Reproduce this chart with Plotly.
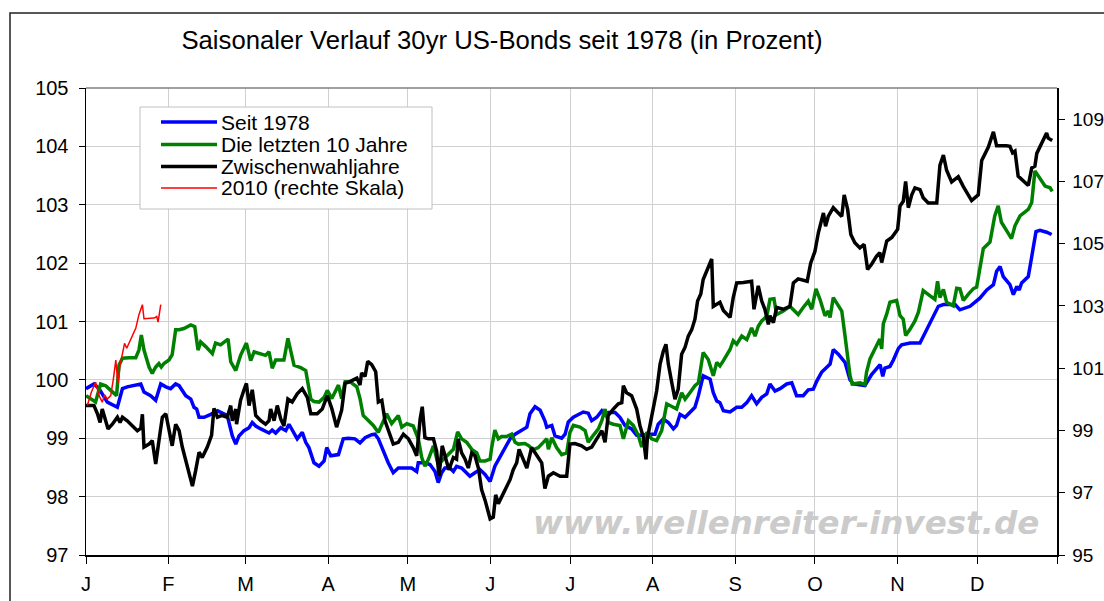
import plotly.graph_objects as go

# ---------------- data ----------------
month_labels = ["J", "F", "M", "A", "M", "J", "J", "A", "S", "O", "N", "D"]
month_start_day = [0, 31, 60, 91, 121, 152, 182, 213, 244, 274, 305, 335]
year_end_day = 365

left_ticks = [97, 98, 99, 100, 101, 102, 103, 104, 105]
right_ticks = [95, 97, 99, 101, 103, 105, 107, 109]

series_names = ["Seit 1978", "Die letzten 10 Jahre", "Zwischenwahljahre", "2010 (rechte Skala)"]

blue_day = [0, 3.0, 4.9, 8.0, 11.8, 13.7, 15.5, 18.0, 20.6, 21.8, 24.3, 26.2, 28.1, 30.0, 31.8, 33.7, 35.0,
            37.5, 39.4, 40.6, 41.6, 42.5, 44.4, 46.9, 49.4, 53.1, 55.0, 56.3, 57.5, 59.4, 61.3, 62.5, 63.8,
            65.7, 66.9, 68.8, 70.0, 71.3, 73.2, 75.1, 76.3, 78.2, 79.4, 81.3, 82.6, 83.8, 85.7, 87.6, 89.5,
            90.5, 92.0, 94.9, 96.7, 98.6, 101.1, 103.0, 104.9, 107.4, 108.6, 109.9, 111.8, 113.6, 115.5,
            117.4, 122.4, 124.3, 124.9, 127.4, 129.3, 131.2, 132.4, 133.7, 134.9, 136.8, 138.1, 139.3,
            141.2, 142.5, 144.3, 146.2, 148.1, 150.0, 151.9, 153.7, 155.6, 157.5, 159.4, 161.3, 163.8,
            165.7, 166.9, 168.8, 170.7, 172.5, 173.2, 175.1, 176.3, 178.8, 180.1, 181.3, 183.2, 186.9,
            188.8, 190.1, 192.0, 193.9, 195.1, 196.3, 198.9, 200.7, 202.6, 205.1, 207.0, 208.9, 211.4,
            213.9, 215.1, 217.0, 218.9, 220.8, 222.0, 223.3, 225.2, 227.0, 228.9, 230.2, 232.0, 234.6,
            235.8, 237.1, 238.3, 239.6, 242.1, 244.6, 246.5, 248.4, 250.2, 252.1, 254.0, 255.9, 257.1,
            259.0, 260.9, 263.4, 265.3, 267.1, 269.6, 271.5, 273.4, 274.7, 276.5, 279.7, 280.9, 282.8,
            285.3, 287.2, 288.5, 292.8, 295.3, 298.5, 299.5, 300.3, 302.2, 303.5, 305.4, 306.6, 309.8,
            313.5, 314.7, 317.3, 320.4, 322.3, 326.7, 328.5, 332.3, 336.0, 338.6, 341.1, 342.3, 343.6,
            344.8, 347.3, 348.6, 349.9, 350.8, 351.7, 354.2, 355.5, 357.1, 358.6, 361.1, 363.0]
blue_val = [99.85, 99.93, 99.85, 99.62, 99.53, 99.85, 99.88, 99.90, 99.93, 99.79, 99.73, 99.65, 99.93, 99.88,
            99.85, 99.93, 99.90, 99.73, 99.67, 99.53, 99.50, 99.36, 99.36, 99.41, 99.47, 99.39, 99.04, 98.90,
            99.04, 99.13, 99.18, 99.27, 99.21, 99.16, 99.13, 99.09, 99.14, 99.09, 99.18, 99.13, 99.24, 99.10,
            98.99, 99.10, 98.93, 98.84, 98.58, 98.52, 98.61, 98.84, 98.70, 98.72, 98.99, 99.00, 98.99, 98.92,
            99.01, 99.06, 99.07, 98.99, 98.78, 98.58, 98.41, 98.49, 98.49, 98.43, 98.58, 98.58, 98.55, 98.43,
            98.24, 98.41, 98.49, 98.49, 98.43, 98.52, 98.49, 98.43, 98.35, 98.41, 98.46, 98.38, 98.26, 98.52,
            98.67, 98.84, 98.99, 99.07, 99.13, 99.19, 99.42, 99.54, 99.48, 99.30, 99.19, 99.22, 99.04, 99.00,
            99.07, 99.28, 99.36, 99.45, 99.43, 99.30, 99.36, 99.47, 99.41, 99.44, 99.44, 99.36, 99.22, 99.16,
            99.05, 99.05, 99.07, 99.07, 99.24, 99.33, 99.27, 99.16, 99.22, 99.41, 99.36, 99.44, 99.53, 99.73,
            100.07, 100.01, 99.78, 99.64, 99.61, 99.47, 99.45, 99.53, 99.53, 99.61, 99.73, 99.59, 99.70, 99.76,
            99.93, 99.81, 99.85, 99.93, 99.95, 99.73, 99.73, 99.83, 99.84, 99.98, 100.13, 100.27, 100.52,
            100.44, 100.30, 100.00, 99.93, 99.90, 100.09, 100.26, 100.06, 100.20, 100.23, 100.34, 100.54,
            100.60, 100.63, 100.63, 100.74, 100.97, 101.26, 101.29, 101.29, 101.20, 101.26, 101.40, 101.54,
            101.63, 101.86, 101.94, 101.77, 101.63, 101.46, 101.60, 101.54, 101.66, 101.77, 102.11, 102.54,
            102.56, 102.53, 102.49]

green_day = [0, 1.8, 3.6, 5.5, 7.4, 9.3, 10.5, 11.5, 12.4, 13.7, 16.2, 18.7, 19.9, 20.8, 21.8, 23.7, 24.9,
             26.2, 27.4, 28.3, 29.3, 31.2, 32.4, 33.7, 35.0, 36.8, 39.4, 40.9, 42.1, 43.1, 45.0, 47.5, 48.7,
             50.6, 53.4, 54.4, 56.3, 58.1, 60.3, 61.9, 63.2, 65.7, 67.5, 68.8, 70.0, 71.3, 74.4, 75.9, 78.2,
             80.7, 82.6, 84.5, 85.7, 87.6, 89.5, 90.7, 92.4, 94.9, 96.1, 97.4, 99.2, 101.8, 103.0, 104.2,
             106.1, 108.0, 109.9, 111.8, 113.0, 114.9, 116.2, 117.4, 118.7, 120.6, 123.0, 124.9, 126.2,
             127.4, 128.7, 130.6, 132.4, 134.3, 136.2, 138.1, 139.7, 141.2, 143.1, 145.0, 146.9, 148.1,
             150.0, 151.9, 152.5, 153.7, 155.0, 156.2, 158.1, 160.0, 161.3, 162.5, 165.0, 166.5, 168.1,
             170.0, 171.9, 173.2, 173.8, 175.1, 176.9, 178.8, 180.7, 181.9, 183.2, 185.7, 187.6, 188.8,
             190.7, 192.6, 193.9, 195.1, 196.3, 198.2, 200.7, 202.0, 203.9, 205.7, 207.6, 208.9, 210.8,
             212.6, 214.5, 216.4, 218.3, 220.8, 222.0, 223.9, 225.2, 227.0, 228.9, 230.2, 232.0, 233.9,
             235.8, 237.1, 238.3, 239.6, 242.1, 243.3, 244.6, 246.5, 248.4, 250.2, 251.5, 252.7, 254.0,
             255.9, 257.1, 258.6, 259.6, 262.1, 264.6, 265.9, 267.7, 269.6, 271.5, 272.8, 274.4, 275.9,
             277.8, 279.0, 279.7, 280.9, 282.2, 284.1, 285.3, 287.2, 288.0, 291.0, 292.8, 293.4, 294.7,
             295.9, 298.4, 299.1, 299.7, 301.0, 302.2, 304.7, 306.0, 307.2, 308.1, 309.8, 311.6, 312.9,
             314.7, 317.3, 319.1, 320.1, 321.0, 322.3, 323.5, 326.0, 327.3, 328.5, 329.8, 331.7, 333.5,
             334.8, 335.8, 337.3, 339.8, 341.6, 342.9, 344.1, 346.0, 347.9, 349.2, 351.1, 354.2, 355.5,
             356.7, 358.6, 360.5, 362.4, 363.2]
green_val = [99.73, 99.67, 99.62, 99.93, 99.90, 99.82, 99.76, 99.73, 100.25, 100.37, 100.38, 100.38, 100.51,
             100.77, 100.51, 100.22, 100.11, 100.22, 100.28, 100.22, 100.28, 100.34, 100.43, 100.86, 100.86,
             100.88, 100.94, 100.91, 100.51, 100.65, 100.57, 100.45, 100.63, 100.60, 100.70, 100.31, 100.16,
             100.42, 100.63, 100.33, 100.48, 100.45, 100.42, 100.48, 100.20, 100.34, 100.34, 100.71, 100.25,
             100.21, 100.16, 99.67, 99.63, 99.62, 99.70, 99.82, 99.68, 99.91, 99.68, 99.97, 99.97, 99.88,
             99.68, 99.39, 99.30, 99.22, 99.10, 99.30, 99.42, 99.25, 99.33, 99.39, 99.19, 99.25, 99.21,
             98.99, 98.67, 98.52, 98.64, 98.87, 98.55, 98.64, 98.72, 98.81, 99.11, 98.99, 98.93, 98.81,
             98.75, 98.61, 98.61, 98.64, 98.84, 99.14, 98.99, 99.03, 99.03, 99.07, 98.93, 98.90, 98.91,
             98.87, 98.80, 98.84, 98.93, 98.99, 98.81, 99.01, 98.84, 98.72, 98.75, 99.10, 99.22, 99.19,
             99.13, 98.93, 99.05, 99.16, 99.30, 99.50, 99.27, 99.24, 99.22, 98.99, 99.30, 99.22, 99.05,
             98.85, 99.10, 98.99, 98.96, 99.13, 99.59, 99.53, 99.50, 99.78, 99.67, 99.78, 99.90, 99.95,
             100.47, 100.35, 100.07, 100.30, 100.24, 100.33, 100.52, 100.67, 100.61, 100.75, 100.69, 100.89,
             100.75, 100.92, 101.01, 101.09, 101.38, 101.39, 101.12, 101.18, 101.26, 101.20, 101.12, 101.24,
             101.35, 101.21, 101.56, 101.38, 101.10, 101.18, 101.07, 101.41, 101.32, 101.18, 100.76, 100.07,
             99.93, 99.95, 99.92, 100.13, 100.36, 100.47, 100.70, 100.53, 100.96, 101.13, 101.33, 101.36,
             101.10, 101.04, 100.76, 100.87, 101.01, 101.16, 101.53, 101.44, 101.38, 101.69, 101.41, 101.55,
             101.33, 101.27, 101.57, 101.56, 101.36, 101.47, 101.56, 101.59, 101.87, 102.25, 102.36, 102.81,
             102.98, 102.70, 102.56, 102.42, 102.64, 102.81, 102.92, 103.04, 103.58, 103.46, 103.32, 103.29,
             103.23]

black_day = [0, 3.0, 4.3, 5.3, 6.1, 7.4, 8.3, 9.9, 11.8, 12.8, 13.7, 15.5, 18.0, 19.3, 20.6, 21.2, 21.8,
             23.7, 24.9, 26.2, 27.8, 28.7, 30.0, 31.2, 32.4, 33.7, 35.0, 36.2, 38.1, 40.0, 41.2, 42.5, 43.7,
             45.6, 47.2, 48.1, 49.4, 51.2, 53.1, 54.4, 55.0, 56.3, 56.6, 58.1, 59.4, 60.3, 61.3, 62.5, 63.8,
             65.7, 67.5, 68.8, 69.4, 70.7, 71.9, 73.2, 74.4, 75.9, 77.5, 79.4, 81.3, 83.2, 84.5, 86.9, 88.8,
             90.7, 92.4, 94.2, 96.1, 97.4, 99.2, 101.8, 103.0, 103.6, 104.9, 105.9, 107.4, 108.9, 109.9,
             111.2, 112.4, 114.3, 115.5, 117.4, 119.3, 121.2, 123.0, 124.3, 125.6, 126.4, 127.4, 128.7,
             130.6, 131.8, 132.7, 133.9, 135.2, 136.4, 138.1, 139.3, 139.9, 141.2, 142.5, 143.7, 145.0,
             146.2, 147.5, 148.7, 150.0, 151.9, 153.1, 154.0, 155.0, 156.2, 158.1, 159.4, 160.6, 161.9,
             162.8, 164.4, 165.7, 167.5, 169.4, 171.3, 172.5, 173.8, 175.7, 178.2, 180.7, 181.9, 183.8,
             186.3, 188.2, 190.1, 192.0, 193.9, 195.1, 196.3, 198.2, 200.1, 201.4, 202.0, 203.2, 205.1,
             207.0, 208.2, 209.5, 210.5, 211.0, 212.0, 213.3, 214.5, 215.8, 217.0, 218.0, 218.9, 220.2,
             221.4, 222.6, 223.9, 225.2, 226.4, 227.7, 228.9, 229.9, 231.1, 232.0, 233.9, 235.2, 235.8,
             237.1, 238.3, 239.6, 240.8, 242.1, 243.3, 244.6, 247.1, 250.2, 251.1, 252.7, 254.0, 255.2,
             256.5, 257.1, 258.4, 259.6, 262.1, 264.6, 265.9, 267.7, 271.1, 272.4, 274.0, 275.3, 277.2,
             278.0, 279.0, 280.9, 282.8, 284.1, 285.0, 286.3, 287.5, 289.0, 290.9, 292.5, 293.8, 295.3,
             297.2, 298.4, 299.1, 301.0, 302.9, 305.1, 306.0, 307.2, 308.1, 309.1, 310.4, 311.6, 313.5,
             314.7, 316.6, 319.8, 321.0, 322.3, 323.5, 325.4, 327.9, 329.8, 332.9, 335.4, 336.7, 339.2,
             341.1, 342.3, 346.0, 347.3, 348.3, 349.2, 350.4, 352.3, 354.2, 355.5, 356.7, 357.4, 359.2,
             361.1, 361.7, 363.2]
black_val = [99.56, 99.56, 99.42, 99.27, 99.50, 99.30, 99.16, 99.24, 99.36, 99.27, 99.36, 99.30, 99.18, 99.13,
             99.17, 99.41, 98.85, 98.90, 98.96, 98.56, 99.08, 99.36, 99.42, 99.16, 98.87, 99.24, 99.13, 98.85,
             98.50, 98.18, 98.44, 98.76, 98.67, 98.85, 99.05, 99.51, 99.36, 99.39, 99.36, 99.56, 99.30, 99.50,
             99.24, 99.65, 99.83, 99.94, 99.56, 99.83, 99.39, 99.30, 99.24, 99.30, 99.50, 99.30, 99.56, 99.33,
             99.21, 99.67, 99.62, 99.76, 99.85, 99.70, 99.42, 99.42, 99.50, 99.73, 99.51, 99.19, 99.48, 99.94,
             99.97, 100.03, 99.91, 100.12, 100.06, 100.32, 100.26, 100.14, 99.62, 99.65, 99.30, 99.07, 98.90,
             98.93, 99.07, 98.99, 98.84, 98.70, 99.33, 99.54, 99.01, 98.99, 98.99, 98.78, 98.35, 98.87, 98.64,
             98.46, 98.67, 98.64, 98.99, 98.75, 98.64, 98.49, 98.75, 98.70, 98.49, 98.12, 97.94, 97.62, 97.65,
             98.03, 97.88, 98.00, 98.17, 98.29, 98.46, 98.58, 98.81, 98.64, 98.49, 98.84, 98.72, 98.58, 98.14,
             98.35, 98.41, 98.35, 98.35, 98.90, 98.91, 98.87, 98.81, 98.85, 98.99, 99.13, 98.93, 99.39, 99.50,
             99.59, 99.61, 99.90, 99.78, 99.73, 99.50, 99.22, 99.02, 98.64, 98.99, 99.22, 99.47, 99.81, 100.27,
             100.49, 100.61, 100.27, 99.95, 99.67, 99.84, 100.44, 100.56, 100.75, 100.86, 101.04, 101.35,
             101.47, 101.72, 101.95, 102.07, 101.26, 101.30, 101.33, 101.19, 101.13, 101.07, 101.41, 101.66,
             101.67, 101.69, 101.21, 101.61, 101.35, 101.21, 100.95, 101.10, 100.98, 101.24, 101.21, 101.26,
             101.66, 101.73, 101.69, 102.00, 102.20, 102.52, 102.86, 102.63, 102.80, 102.95, 102.86, 102.80,
             103.17, 102.92, 102.49, 102.35, 102.26, 102.32, 101.89, 101.98, 102.12, 102.18, 102.01, 102.38,
             102.44, 102.58, 102.98, 103.06, 103.40, 102.95, 103.17, 103.29, 103.26, 103.12, 103.03, 103.03,
             103.68, 103.85, 103.59, 103.39, 103.48, 103.31, 103.07, 103.17, 103.76, 103.99, 104.25, 104.01,
             104.01, 104.00, 103.89, 103.92, 103.49, 103.41, 103.33, 103.63, 103.66, 103.88, 104.06, 104.23,
             104.14, 104.10]

red_day = [0.5, 2.0, 3.6, 4.9, 6.1, 7.0, 8.0, 9.3, 10.3, 11.2, 12.0, 12.8, 13.7, 14.5, 15.3, 16.8, 18.7,
           19.9, 21.2, 21.8, 23.7, 25.6, 26.6, 27.1, 28.1]
red_val = [99.80, 100.23, 100.55, 100.12, 99.91, 100.14, 100.01, 100.12, 100.66, 101.26, 100.50, 101.10,
           101.47, 101.80, 101.64, 101.90, 102.28, 102.72, 103.04, 102.59, 102.59, 102.61, 102.66, 102.48,
           103.04]

# ---------------- geometry ----------------
W, H = 1104, 601
PL, PR, PT, PB = 86, 1057, 88, 555          # plot area in screen pixels
ML, MR, MT, MB = PL, W - PR, PT, H - PB
PW, PH = PR - PL, PB - PT


def fx(p):
    return (p - PL) / PW


def fy(p):
    return (PB - p) / PH


FONT = "Liberation Sans, Arial, sans-serif"
colors = ["#0000ff", "#008000", "#000000", "#ff0000"]
widths = [3.5, 3.5, 3.5, 1.5]

fig = go.Figure()
fig.add_trace(go.Scatter(x=blue_day, y=blue_val, name=series_names[0], mode="lines",
                         line=dict(color=colors[0], width=widths[0]), showlegend=False))
fig.add_trace(go.Scatter(x=green_day, y=green_val, name=series_names[1], mode="lines",
                         line=dict(color=colors[1], width=widths[1]), showlegend=False))
fig.add_trace(go.Scatter(x=black_day, y=black_val, name=series_names[2], mode="lines",
                         line=dict(color=colors[2], width=widths[2]), showlegend=False))
fig.add_trace(go.Scatter(x=red_day, y=red_val, name=series_names[3], mode="lines",
                         line=dict(color=colors[3], width=widths[3]), yaxis="y2", showlegend=False))

axis_font = dict(family=FONT, size=20, color="#000000")

shapes = [
    # outer chart frame (cut by the picture edges)
    dict(type="rect", xref="paper", yref="paper",
         x0=fx(10), x1=fx(1120), y0=fy(620), y1=fy(13),
         line=dict(color="#202020", width=1.5), fillcolor="rgba(0,0,0,0)"),
    # top border of plot area
    dict(type="line", xref="paper", yref="paper", x0=0, x1=1, y0=1, y1=1,
         line=dict(color="#808080", width=1.5)),
    # legend box
    dict(type="rect", xref="paper", yref="paper",
         x0=fx(140), x1=fx(432), y0=fy(209), y1=fy(107),
         line=dict(color="#c0c0c0", width=1), fillcolor="#ffffff"),
]
annotations = []
legend_rows = [122, 144.5, 166.5, 188]
for name, col, wd, row in zip(series_names, colors, widths, legend_rows):
    shapes.append(dict(type="line", xref="paper", yref="paper",
                       x0=fx(161), x1=fx(217), y0=fy(row), y1=fy(row),
                       line=dict(color=col, width=wd)))
    annotations.append(dict(text=name, xref="paper", yref="paper", x=fx(219), y=fy(row),
                            xanchor="left", yanchor="middle", showarrow=False,
                            font=dict(family=FONT, size=21, color="#000000")))

annotations.append(dict(text="www.wellenreiter-invest.de", xref="paper", yref="paper",
                        x=fx(786), y=fy(523), xanchor="center", yanchor="middle", showarrow=False,
                        font=dict(family="DejaVu Sans", size=32.5, color="#cbcbcb",
                                  weight="bold", style="italic")))

fig.update_layout(
    width=W, height=H,
    margin=dict(l=ML, r=MR, t=MT, b=MB, autoexpand=False),
    paper_bgcolor="#ffffff", plot_bgcolor="#ffffff",
    font=dict(family=FONT, color="#000000"),
    title=dict(text="Saisonaler Verlauf 30yr US-Bonds seit 1978 (in Prozent)",
               x=502 / W, y=1 - 40 / H, xanchor="center", yanchor="middle",
               xref="container", yref="container",
               font=dict(family=FONT, size=25.7, color="#000000")),
    xaxis=dict(range=[0, year_end_day], tickmode="array",
               tickvals=month_start_day + [year_end_day], ticktext=month_labels + [""],
               ticks="outside", ticklen=7, tickcolor="#000000", tickwidth=1,
               showline=True, linecolor="#000000", linewidth=1.5,
               showgrid=True, gridcolor="#d0d0d0", gridwidth=1, zeroline=False,
               tickfont=axis_font, ticklabelstandoff=3),
    yaxis=dict(range=[97, 105], tickmode="array", tickvals=left_ticks,
               ticks="outside", ticklen=6, tickcolor="#000000",
               showline=True, linecolor="#000000", linewidth=1.5,
               showgrid=True, gridcolor="#d0d0d0", gridwidth=1, zeroline=False,
               tickfont=axis_font, ticklabelstandoff=6),
    yaxis2=dict(range=[95, 110], overlaying="y", side="right", tickmode="array",
                tickvals=right_ticks, ticks="outside", ticklen=6, tickcolor="#000000",
                showline=True, linecolor="#000000", linewidth=1.5,
                showgrid=False, zeroline=False,
                tickfont=dict(family=FONT, size=19, color="#000000"), ticklabelstandoff=4),
    showlegend=False,
    annotations=annotations,
    shapes=shapes,
)

fig.write_html("out.html",
               config={"displayModeBar": False, "staticPlot": True},
               post_script="document.body.style.margin='0';document.body.style.overflow='hidden';")
